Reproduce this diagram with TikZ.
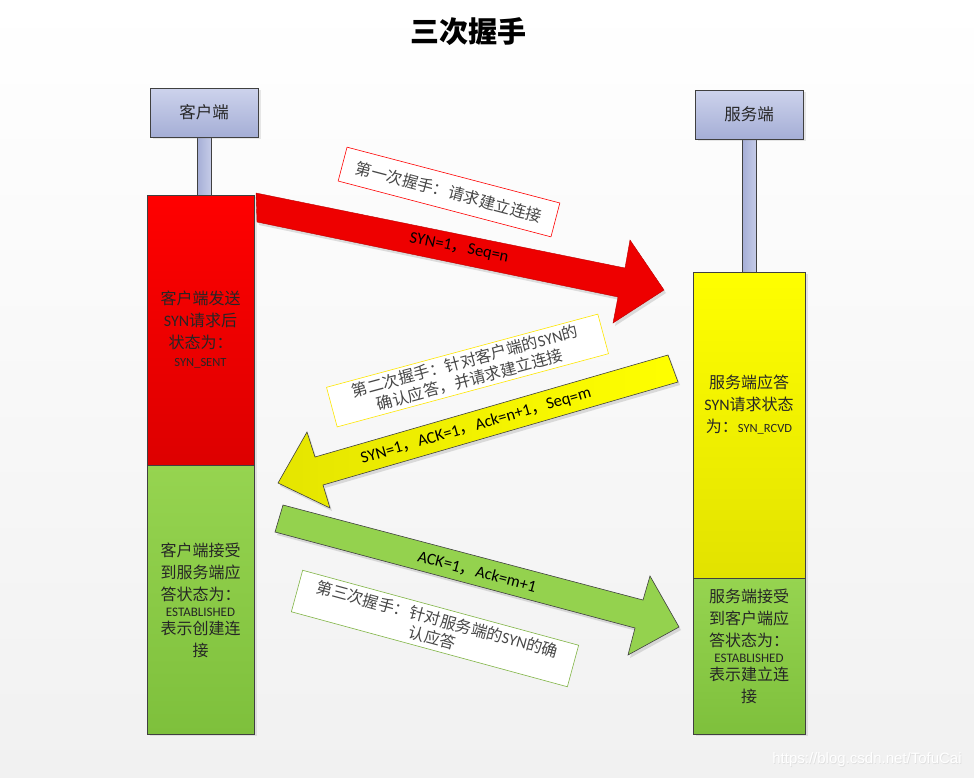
\documentclass[tikz,border=0pt]{standalone}
\usepackage{fontspec}
\setmainfont{Noto Sans CJK SC}
\newfontfamily\latf{Carlito}
\newfontfamily\wmfont{Liberation Sans}
\newcommand\lt[1]{{\latf #1}}
\usetikzlibrary{shadows}
\definecolor{hdtop}{HTML}{CDD3EC}
\definecolor{hdbot}{HTML}{A5AED6}
\definecolor{redtop}{HTML}{FF0000}
\definecolor{redbot}{HTML}{DD0000}
\definecolor{redarr}{HTML}{EE0000}
\definecolor{yeltop}{HTML}{FFFF00}
\definecolor{yelbot}{HTML}{E2E200}
\definecolor{grntop}{HTML}{96D450}
\definecolor{grnbot}{HTML}{7EC03C}
\definecolor{edge}{HTML}{404040}
\definecolor{txt}{HTML}{262626}
\definecolor{bgbot}{HTML}{F1F1F1}
\begin{document}
\begin{tikzpicture}[x=1pt,y=-1pt,
  every node/.style={inner sep=0pt, outer sep=0pt},
  boxsh/.style={drop shadow={shadow xshift=3pt, shadow yshift=-2pt, opacity=0.18}},
  hdr/.style={draw=edge, line width=0.8pt, top color=hdtop, bottom color=hdbot, boxsh,
    font=\fontsize{16.5}{20}\selectfont, text=txt},
  stem/.style={draw=edge, line width=0.6pt, left color=hdbot, right color=hdtop!80!hdbot},
  redbox/.style={draw=edge, line width=0.8pt, top color=redtop, bottom color=redbot, boxsh},
  yelbox/.style={draw=edge, line width=0.8pt, top color=yeltop, bottom color=yelbot, boxsh},
  grnbox/.style={draw=edge, line width=0.8pt, top color=grntop, bottom color=grnbot, boxsh},
  boxtext/.style={align=center, font=\fontsize{16}{22}\selectfont, text=txt},
  labelbox/.style={fill=white, line width=0.6pt, align=center,
    font=\fontsize{16}{19}\selectfont, text=txt!85},
  arrowlbl/.style={font=\fontsize{16.5}{20}\selectfont, text=black},
  arrowsh/.style={drop shadow={shadow xshift=2pt, shadow yshift=-3pt, opacity=0.25}},
]
% background
\shade[top color=white, bottom color=bgbot] (0,0) rectangle (974,777);
\useasboundingbox (0,0) rectangle (974,777);

% title
\node[font=\bfseries\fontsize{29}{32}\selectfont, text=black] (title) at (468,32) {三次握手};

% stems
\node[stem, minimum width=14pt, minimum height=58pt] (cstem) at (204,166) {};
\node[stem, minimum width=14pt, minimum height=133pt] (sstem) at (749,205.5) {};

% headers
\node[hdr, minimum width=108pt, minimum height=49pt] (chead) at (204,112.5) {客户端};
\node[hdr, minimum width=108pt, minimum height=49pt] (shead) at (749,114.5) {服务端};

% client boxes
\node[redbox, minimum width=107pt, minimum height=270pt] (cred) at (200.5,330) {};
\node[grnbox, minimum width=107pt, minimum height=269pt] (cgrn) at (200.5,599.5) {};
% server boxes
\node[yelbox, minimum width=112pt, minimum height=306pt] (syel) at (749,425) {};
\node[grnbox, minimum width=112pt, minimum height=156pt] (sgrn) at (749,656) {};

% box texts
\node[boxtext] (credt) at (200.5,330) {客户端发送\\\lt{SYN}请求后\\状态为：\\[-4pt]{\fontsize{12.5}{14}\selectfont\lt{SYN\_SENT}}};
\node[boxtext] (cgrnt) at (200.5,600) {客户端接受\\到服务端应\\答状态为：\\[-6pt]{\fontsize{13}{14}\selectfont\lt{ESTABLISHED}}\\[-4pt]表示创建连\\接};
\node[boxtext] (syelt) at (749,404.5) {服务端应答\\\lt{SYN}请求状态\\为：{\fontsize{12.5}{14}\selectfont\lt{SYN\_RCVD}}};
\node[boxtext] (sgrnt) at (749,646) {服务端接受\\到客户端应\\答状态为：\\[-6pt]{\fontsize{13}{14}\selectfont\lt{ESTABLISHED}}\\[-4pt]表示建立连\\接};

% block arrows
\path[draw=redbot!85!black, line width=0.4pt, fill=redarr, arrowsh]
  (256,193) -- (625,268) -- (630,240) -- (664,290) -- (613,323) -- (618,297) -- (257,222) -- cycle;
\path[draw=edge, line width=0.6pt, left color=yelbot!90!yeltop, right color=yeltop, arrowsh]
  (668,355) -- (315,457) -- (307,432) -- (278,483) -- (330,508) -- (323,485) -- (678,382) -- cycle;
\path[draw=edge, line width=0.6pt, fill=grntop!92!grnbot, arrowsh]
  (283,505) -- (643,600) -- (650,576) -- (679,627) -- (628,655) -- (635,628) -- (275,532) -- cycle;

% arrow labels
\node[arrowlbl, rotate=-11.4] (l1) at (459,248) {\lt{SYN=1}，\lt{Seq=n}};
\node[arrowlbl, rotate=16.1] (l2) at (476,426) {\lt{SYN=1}，\lt{ACK=1}，\lt{Ack=n+1}，\lt{Seq=m}};
\node[arrowlbl, rotate=-14.8] (l3) at (477,572) {\lt{ACK=1}，\lt{Ack=m+1}};

% handshake description boxes
\node[labelbox, draw=red, rotate=-14.7, minimum width=220pt, minimum height=35pt] (d1) at (449,192) {第一次握手：请求建立连接};
\node[labelbox, draw=yellow!90!orange, rotate=15.1, minimum width=281pt, minimum height=41pt] (d2) at (467.5,370.5) {第二次握手：针对客户端的\lt{SYN}的\\确认应答，并请求建立连接};
\node[labelbox, draw=grntop!85!black, rotate=-15.2, minimum width=286pt, minimum height=43pt] (d3) at (435,628.5) {第三次握手：针对服务端的\lt{SYN}的确\\认应答};

% watermark
\node[font=\wmfont\fontsize{15}{18}\selectfont, text=black!12] (wms) at (867.7,760.7) {https://blog.csdn.net/TofuCai};
\node[font=\wmfont\fontsize{15}{18}\selectfont, text=white] (wm) at (867,760) {https://blog.csdn.net/TofuCai};
\end{tikzpicture}
\end{document}
